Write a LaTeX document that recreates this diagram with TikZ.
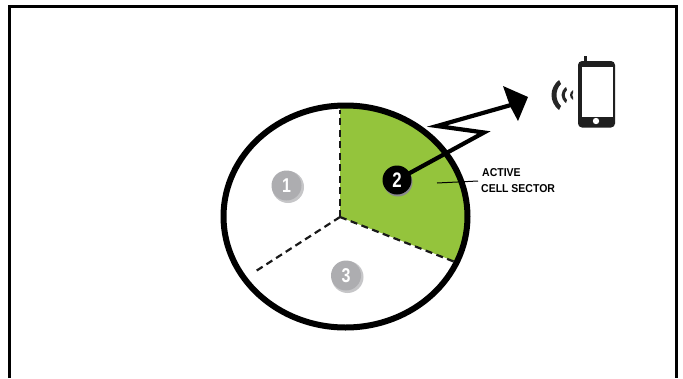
\documentclass[tikz,border=0pt]{standalone}
\usepackage{fontspec}
\setmainfont{Liberation Sans}
\newfontfamily\labelfont[FakeStretch=0.92]{Liberation Sans}
\newfontfamily\numfont[FakeStretch=0.8]{Liberation Sans}
\definecolor{sectorgreen}{HTML}{94C43C}
\definecolor{badgegrey}{HTML}{ADADB0}
\definecolor{shadowgrey}{HTML}{8A8A8C}
\tikzset{
  x=1pt,y=-1pt,
  rim/.style={line width=6pt,draw=black},
  divider/.style={line width=2.2pt,draw=black!90,dash pattern=on 7pt off 4.5pt},
  badge/.style={circle,minimum size=30pt,inner sep=0pt,fill=badgegrey,text=white,font=\numfont\bfseries\fontsize{20}{20}\selectfont},
  badgeback/.style={circle,minimum size=30pt,inner sep=0pt,fill=#1},
  bolt/.style={line width=4.2pt,draw=black,miter limit=10},
  lbl/.style={inner sep=0pt,anchor=west,font=\labelfont\bfseries\fontsize{11.4}{12}\selectfont}
}
\begin{document}
\begin{tikzpicture}
\useasboundingbox (0,0) rectangle (683,378);
\fill[white] (0,0) rectangle (683,378);
% frame
\draw[line width=3pt,black] (9.5,378) -- (9.5,6.5) -- (676,6.5) -- (676,378);
% green sector
\begin{scope}
  \clip (345.5,216.5) ellipse [x radius=122,y radius=111];
  \fill[sectorgreen] (340,217) -- (340,90) -- (500,90) -- (500,279) -- cycle;
\end{scope}
\coordinate (hub) at (340,217);
\coordinate (endA) at (340,110);
\coordinate (endB) at (455,262);
\coordinate (endC) at (256,271);
\draw[divider] (hub) -- (endA);
\draw[divider] (hub) -- (endB);
\draw[divider] (hub) -- (endC);
\draw[rim] (345.5,216.5) ellipse [x radius=122,y radius=111];
% badges
\node[badgeback=badgegrey!70,minimum size=32pt] (oneback) at (288,187) {};
\node[badge] (one) at (286.5,185.5) {1};
\node[badgeback=badgegrey!70,minimum size=32pt] (threeback) at (347.5,277) {};
\node[badge] (three) at (346,275.5) {3};
% bolt
\coordinate (b1) at (484,132.5);
\coordinate (b2) at (437,126);
\coordinate (tip) at (518,103);
\node[badgeback=shadowgrey,minimum size=29pt] (twoback) at (398,182) {};
\draw[bolt] (397,180) -- (b1) -- (b2) -- (tip);
\fill[black] (528,97) -- (503,86) -- (510,106) -- (518,121) -- cycle;
\node[badge,fill=black,minimum size=29pt,font=\numfont\bfseries\fontsize{21}{21}\selectfont] (two) at (397,180) {2};
% label
\coordinate (leadA) at (437,183);
\coordinate (leadB) at (478,181);
\draw[line width=1pt,black] (leadA) -- (leadB);
\node[lbl] (active) at (482,173) {ACTIVE};
\node[lbl] (cell) at (481,188.5) {CELL SECTOR};
% signal waves
\fill[black!85] (559,80) .. controls (549,88) and (549,102) .. (559,110) -- (561,106) .. controls (555,100) and (555,90) .. (561,84) -- cycle;
\fill[black!85] (566,87) .. controls (560,92) and (560,98) .. (566,103) -- (567,100) .. controls (564,97) and (564,93) .. (567,90) -- cycle;
\fill[black!85] (573,90) .. controls (569,93) and (569,97) .. (573,100) -- (573,97) .. controls (572,96) and (572,94) .. (573,93) -- cycle;
% phone
\fill[black!88] (584,56) rectangle (586.5,62);
\fill[black!88,rounded corners=4pt] (578,61) rectangle (615,127.5);
\fill[white] (582,67) rectangle (612.5,117);
\fill[white] (596,121) circle (3.2);
\end{tikzpicture}
\end{document}
